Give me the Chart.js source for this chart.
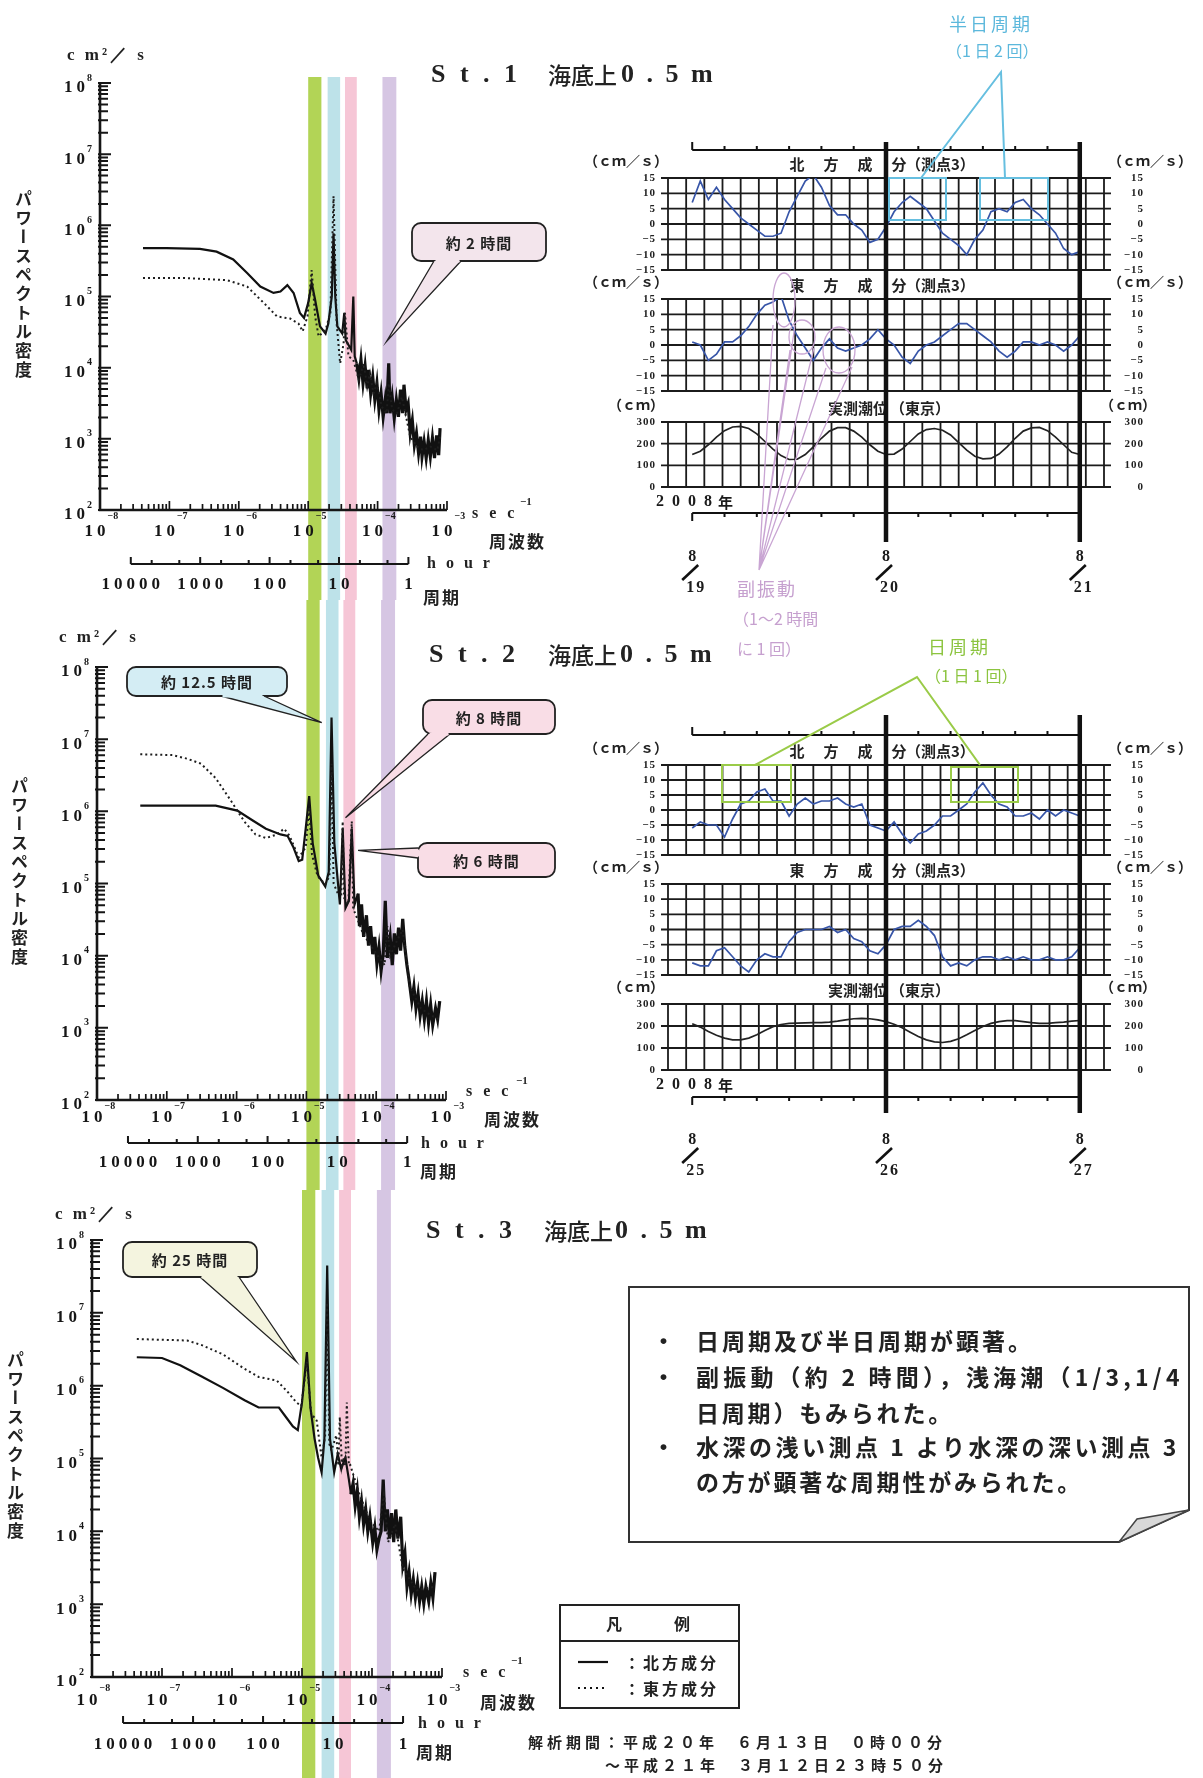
<!DOCTYPE html>
<html lang="ja">
<head>
<meta charset="utf-8">
<title>パワースペクトル密度と流速時系列</title>
<script src="https://cdn.jsdelivr.net/npm/chart.js@4.4.1/dist/chart.umd.min.js"></script>
<style>
  html, body { margin: 0; background: #fff; }
  #page { position: relative; width: 1203px; height: 1778px; overflow: hidden; background: #fff; }
  canvas { position: absolute; }
  svg { position: absolute; left: 0; top: 0; }
  .t { position: absolute; white-space: nowrap; line-height: 1; transform: translateY(-50%); color: #222; }
  .ser { font-family: "Liberation Serif", "DejaVu Serif", serif; font-weight: bold; }
  .jp { font-family: "Noto Sans CJK JP", sans-serif; font-weight: bold; }
  .vt { position: absolute; writing-mode: vertical-rl; font-family: "Noto Sans CJK JP", sans-serif; font-weight: bold;
        font-size: 17px; letter-spacing: 2px; color: #222; line-height: 1; }
  .box { font-family: "Noto Sans CJK JP", sans-serif; font-weight: bold; font-size: 23px; color: #222; }
  .note { font-family: "Noto Sans CJK JP", sans-serif; font-weight: normal; }
</style>
</head>
<body>
<div id="page">
  <canvas id="sp1" width="560" height="600" style="left:0;top:0"></canvas>
  <canvas id="sp2" width="560" height="590" style="left:0;top:600px"></canvas>
  <canvas id="sp3" width="560" height="588" style="left:0;top:1190px"></canvas>
  <canvas id="n1" width="633" height="480" style="left:570px;top:130px"></canvas>
  <canvas id="e1" width="633" height="480" style="left:570px;top:130px"></canvas>
  <canvas id="w1" width="633" height="480" style="left:570px;top:130px"></canvas>
  <canvas id="n2" width="633" height="500" style="left:570px;top:700px"></canvas>
  <canvas id="e2" width="633" height="500" style="left:570px;top:700px"></canvas>
  <canvas id="w2" width="633" height="500" style="left:570px;top:700px"></canvas>

  <svg width="1203" height="1778">
    <!-- 半日周期 -->
    <g fill="none" stroke="#66bfe0" stroke-width="2">
      <rect x="889" y="178" width="57" height="42"/>
      <rect x="980" y="178" width="68" height="42"/>
      <polyline points="921,178 1001,72 1005,178"/>
    </g>
    <!-- 日周期 -->
    <g fill="none" stroke="#9acb48" stroke-width="2">
      <rect x="722" y="765" width="69" height="37"/>
      <rect x="951" y="767" width="67" height="35"/>
      <polyline points="755,765 917,677 980,765"/>
    </g>
    <!-- 副振動 -->
    <g fill="none" stroke="#c9a5d3" stroke-width="1.3">
      <ellipse cx="784" cy="300" rx="11" ry="27"/>
      <ellipse cx="802" cy="337" rx="13" ry="17"/>
      <ellipse cx="839" cy="350" rx="16" ry="23"/>
      <path d="M759,570 L773,325 M759,570 L795,325 M759,570 L790,350 M759,570 L814,348 M759,570 L826,368 M759,570 L852,367"/>
    </g>
    <!-- comment box -->
    <polygon points="629,1287 1189,1287 1189,1510 1119,1542 629,1542" fill="#fff" stroke="#333" stroke-width="2"/>
    <polygon points="1119,1542 1137,1519 1189,1510" fill="#d8d8d8" stroke="#444" stroke-width="1.5"/>
    <!-- legend -->
    <rect x="560" y="1605" width="179" height="103" fill="#fff" stroke="#222" stroke-width="2"/>
    <line x1="560" y1="1641" x2="739" y2="1641" stroke="#222" stroke-width="2"/>
    <line x1="578" y1="1662" x2="608" y2="1662" stroke="#111" stroke-width="2.2"/>
    <line x1="578" y1="1688" x2="608" y2="1688" stroke="#111" stroke-width="2" stroke-dasharray="2,4"/>
  </svg>

  <!-- spectrum 1 labels -->
  <div class="t ser" style="left:67px;top:54px;font-size:17px;letter-spacing:3px">c m²／ s</div>
  <div class="vt" style="left:15px;top:190px">パワースペクトル密度</div>
  <div class="t ser" style="left:472px;top:513px;font-size:16px;letter-spacing:11px">sec</div>
  <div class="t ser" style="left:520px;top:501px;font-size:11px">−1</div>
  <div class="t jp" style="left:489px;top:540px;font-size:17px;letter-spacing:2px">周波数</div>
  <div class="t ser" style="left:427px;top:563px;font-size:16px;letter-spacing:10px">hour</div>
  <div class="t jp" style="left:423px;top:596px;font-size:17px;letter-spacing:2px">周期</div>
  <!-- spectrum 2 labels -->
  <div class="t ser" style="left:59px;top:636px;font-size:17px;letter-spacing:3px">c m²／ s</div>
  <div class="vt" style="left:11px;top:777px">パワースペクトル密度</div>
  <div class="t ser" style="left:466px;top:1091px;font-size:16px;letter-spacing:11px">sec</div>
  <div class="t ser" style="left:516px;top:1080px;font-size:11px">−1</div>
  <div class="t jp" style="left:484px;top:1118px;font-size:17px;letter-spacing:2px">周波数</div>
  <div class="t ser" style="left:421px;top:1143px;font-size:16px;letter-spacing:10px">hour</div>
  <div class="t jp" style="left:420px;top:1170px;font-size:17px;letter-spacing:2px">周期</div>
  <!-- spectrum 3 labels -->
  <div class="t ser" style="left:55px;top:1213px;font-size:17px;letter-spacing:3px">c m²／ s</div>
  <div class="vt" style="left:7px;top:1351px">パワースペクトル密度</div>
  <div class="t ser" style="left:463px;top:1672px;font-size:16px;letter-spacing:11px">sec</div>
  <div class="t ser" style="left:511px;top:1660px;font-size:11px">−1</div>
  <div class="t jp" style="left:480px;top:1701px;font-size:17px;letter-spacing:2px">周波数</div>
  <div class="t ser" style="left:418px;top:1723px;font-size:16px;letter-spacing:10px">hour</div>
  <div class="t jp" style="left:416px;top:1751px;font-size:17px;letter-spacing:2px">周期</div>

  <!-- station titles -->
  <div class="t ser" style="left:431px;top:74px;font-size:26px;letter-spacing:4px">S t . 1</div>
  <div class="t jp" style="left:548px;top:74px;font-size:23px;font-weight:500">海底上</div>
  <div class="t ser" style="left:621px;top:74px;font-size:26px;letter-spacing:3px">0 . 5 m</div>
  <div class="t ser" style="left:429px;top:654px;font-size:26px;letter-spacing:4px">S t . 2</div>
  <div class="t jp" style="left:548px;top:654px;font-size:23px;font-weight:500">海底上</div>
  <div class="t ser" style="left:620px;top:654px;font-size:26px;letter-spacing:3px">0 . 5 m</div>
  <div class="t ser" style="left:426px;top:1230px;font-size:26px;letter-spacing:4px">S t . 3</div>
  <div class="t jp" style="left:544px;top:1230px;font-size:23px;font-weight:500">海底上</div>
  <div class="t ser" style="left:615px;top:1230px;font-size:26px;letter-spacing:3px">0 . 5 m</div>

  <!-- annotations -->
  <div class="t note" style="left:949px;top:23px;font-size:18px;letter-spacing:3px;color:#5cb8dc">半日周期</div>
  <div class="t note" style="left:946px;top:50px;font-size:16px;color:#5cb8dc">（1 日 2 回）</div>
  <div class="t note" style="left:737px;top:588px;font-size:18px;letter-spacing:2px;color:#c6a0cf">副振動</div>
  <div class="t note" style="left:733px;top:618px;font-size:16px;color:#c6a0cf">（1〜2 時間</div>
  <div class="t note" style="left:737px;top:648px;font-size:16px;color:#c6a0cf">に 1 回）</div>
  <div class="t note" style="left:928px;top:646px;font-size:18px;letter-spacing:3px;color:#8cc43f">日周期</div>
  <div class="t note" style="left:925px;top:675px;font-size:16px;color:#8cc43f">（1 日 1 回）</div>

  <!-- comment box text -->
  <div class="t box" style="left:652px;top:1340px">・</div>
  <div class="t box" style="left:696px;top:1340px;letter-spacing:3px">日周期及び半日周期が顕著。</div>
  <div class="t box" style="left:652px;top:1376px">・</div>
  <div class="t box" style="left:696px;top:1376px;letter-spacing:4.2px">副振動（約 2 時間），浅海潮（1/3,1/4</div>
  <div class="t box" style="left:696px;top:1412px;letter-spacing:2.8px">日周期）もみられた。</div>
  <div class="t box" style="left:652px;top:1446px">・</div>
  <div class="t box" style="left:696px;top:1446px;letter-spacing:3.5px">水深の浅い測点 1 より水深の深い測点 3</div>
  <div class="t box" style="left:696px;top:1481px;letter-spacing:2.8px">の方が顕著な周期性がみられた。</div>

  <!-- legend text -->
  <div class="t jp" style="left:606px;top:1623px;font-size:16px">凡</div>
  <div class="t jp" style="left:674px;top:1623px;font-size:16px">例</div>
  <div class="t jp" style="left:624px;top:1662px;font-size:16px;letter-spacing:3px">：北方成分</div>
  <div class="t jp" style="left:624px;top:1688px;font-size:16px;letter-spacing:3px">：東方成分</div>

  <!-- analysis period -->
  <div class="t jp" style="left:528px;top:1741px;font-size:15px;letter-spacing:4px">解析期間：平成２０年　６月１３日　０時００分</div>
  <div class="t jp" style="left:605px;top:1764px;font-size:15px;letter-spacing:4px">～平成２１年　３月１２日２３時５０分</div>
</div>

<script>
// ---- spectra: [log10 frequency (1/s), log10 power (cm^2/s)] ----
const st1North = [[-7.38,5.68],[-7.04,5.68],[-6.56,5.67],[-6.32,5.63],[-6.08,5.52],[-5.88,5.33],[-5.69,5.14],[-5.50,5.05],
  [-5.40,5.07],[-5.30,5.16],[-5.21,5.05],[-5.12,4.77],[-5.06,4.70],[-5.00,4.91],[-4.95,5.19],[-4.90,4.95],[-4.83,4.58],
  [-4.75,4.48],[-4.71,4.62],[-4.66,5.00],[-4.635,5.89],[-4.61,5.00],[-4.58,4.58],[-4.51,4.48],[-4.48,4.77],[-4.46,4.39],
  [-4.38,4.25],[-4.35,5.00],[-4.33,4.16],[-4.30,4.06],[-4.27,3.85],[-4.24,4.11],[-4.21,3.78],[-4.18,4.02],[-4.15,3.71],
  [-4.13,3.97],[-4.10,3.64],[-4.07,3.87],[-4.04,3.55],[-4.01,3.78],[-3.98,3.41],[-3.95,3.64],[-3.92,3.31],[-3.89,3.55],
  [-3.87,3.36],[-3.84,4.06],[-3.82,3.36],[-3.79,3.59],[-3.76,3.29],[-3.73,3.55],[-3.70,3.31],[-3.67,3.69],[-3.64,3.36],
  [-3.62,3.76],[-3.59,3.41],[-3.56,3.50],[-3.53,3.08],[-3.50,3.26],[-3.47,2.91],[-3.44,3.08],[-3.41,2.80],[-3.38,3.03],
  [-3.36,2.75],[-3.33,2.96],[-3.30,2.73],[-3.27,2.98],[-3.24,2.75],[-3.21,3.01],[-3.18,2.73],[-3.15,3.05],[-3.12,2.77],[-3.10,3.15]];
const st1East = [[-7.38,5.26],[-6.80,5.26],[-6.17,5.23],[-5.88,5.14],[-5.64,4.91],[-5.45,4.72],[-5.26,4.69],[-5.14,4.62],
  [-5.08,4.51],[-5.01,4.72],[-4.95,5.37],[-4.90,4.72],[-4.85,4.44],[-4.75,4.53],[-4.68,4.77],[-4.635,6.41],[-4.59,4.62],
  [-4.54,4.06],[-4.49,4.34],[-4.47,4.77],[-4.42,4.16],[-4.35,4.11],[-4.27,3.83],[-4.20,4.06],[-4.15,3.73],[-4.11,3.92],
  [-4.06,3.64],[-4.01,3.78],[-3.94,3.45],[-3.87,3.36],[-3.84,3.78],[-3.79,3.41],[-3.72,3.36],[-3.65,3.59],[-3.60,3.36],
  [-3.53,3.03],[-3.43,2.89],[-3.34,2.84],[-3.24,2.89],[-3.14,2.84],[-3.10,3.03]];
const st2North = [[-7.38,6.08],[-6.30,6.08],[-5.99,6.01],[-5.78,5.88],[-5.58,5.76],[-5.37,5.68],[-5.27,5.66],[-5.19,5.51],
  [-5.11,5.31],[-5.06,5.33],[-5.01,5.76],[-4.96,6.21],[-4.91,5.56],[-4.83,5.11],[-4.73,4.96],[-4.68,5.16],[-4.64,7.30],
  [-4.60,5.56],[-4.52,4.71],[-4.48,5.76],[-4.44,4.66],[-4.39,4.76],[-4.35,5.76],[-4.31,4.71],[-4.26,4.86],[-4.24,4.41],
  [-4.21,4.71],[-4.18,4.26],[-4.14,4.56],[-4.11,4.14],[-4.08,4.41],[-4.05,4.02],[-4.02,4.26],[-3.99,3.89],[-3.96,4.12],
  [-3.93,3.79],[-3.90,4.02],[-3.87,4.76],[-3.84,3.97],[-3.80,4.26],[-3.77,3.87],[-3.74,4.31],[-3.71,4.02],[-3.68,4.39],
  [-3.65,4.07],[-3.62,4.51],[-3.59,4.12],[-3.56,3.87],[-3.53,3.67],[-3.49,3.37],[-3.46,3.57],[-3.43,3.27],[-3.40,3.47],
  [-3.37,3.17],[-3.34,3.37],[-3.31,3.12],[-3.28,3.37],[-3.25,3.07],[-3.22,3.32],[-3.19,3.04],[-3.15,3.27],[-3.12,3.12],[-3.09,3.37]];
const st2East = [[-7.38,6.79],[-6.92,6.78],[-6.71,6.73],[-6.51,6.66],[-6.30,6.46],[-6.09,6.16],[-5.89,5.86],[-5.73,5.68],
  [-5.58,5.63],[-5.42,5.68],[-5.32,5.76],[-5.24,5.66],[-5.11,5.36],[-5.01,5.50],[-4.96,6.06],[-4.92,5.40],[-4.84,5.10],
  [-4.73,4.99],[-4.67,5.10],[-4.64,6.66],[-4.61,5.00],[-4.55,4.86],[-4.50,4.85],[-4.48,5.86],[-4.46,4.80],[-4.40,4.72],
  [-4.35,5.86],[-4.33,4.65],[-4.29,4.56],[-4.19,4.31],[-4.03,4.07],[-3.88,3.87],[-3.84,4.41],[-3.80,4.00],[-3.72,4.17],
  [-3.62,4.36],[-3.52,3.57],[-3.36,3.27],[-3.21,3.17],[-3.10,3.12]];
const st3North = [[-7.36,6.39],[-7.00,6.38],[-6.74,6.28],[-6.44,6.13],[-6.13,5.97],[-5.82,5.80],[-5.62,5.70],[-5.46,5.70],
  [-5.33,5.70],[-5.23,5.57],[-5.13,5.44],[-5.06,5.39],[-5.00,5.77],[-4.93,6.46],[-4.88,5.70],[-4.82,5.27],[-4.77,5.01],
  [-4.72,4.81],[-4.68,5.27],[-4.64,7.65],[-4.60,5.27],[-4.54,4.81],[-4.49,5.06],[-4.44,4.86],[-4.38,5.01],[-4.33,4.71],
  [-4.30,4.51],[-4.27,4.66],[-4.24,4.35],[-4.21,4.56],[-4.18,4.20],[-4.15,4.41],[-4.12,4.10],[-4.09,4.30],[-4.06,4.00],
  [-4.03,4.20],[-3.99,3.85],[-3.96,4.05],[-3.93,3.75],[-3.90,3.90],[-3.87,4.00],[-3.84,4.71],[-3.81,4.00],[-3.78,4.30],
  [-3.75,3.90],[-3.72,4.25],[-3.69,3.85],[-3.66,4.30],[-3.63,3.90],[-3.59,4.20],[-3.56,3.54],[-3.53,3.70],[-3.50,3.24],
  [-3.47,3.44],[-3.44,3.14],[-3.41,3.34],[-3.38,3.09],[-3.35,3.29],[-3.32,3.04],[-3.29,3.24],[-3.26,3.01],[-3.23,3.24],
  [-3.19,3.04],[-3.16,3.29],[-3.13,3.09],[-3.10,3.44]];
const st3East = [[-7.36,6.64],[-6.64,6.62],[-6.44,6.56],[-6.13,6.43],[-5.82,6.23],[-5.62,6.12],[-5.36,6.07],[-5.21,5.92],
  [-5.08,5.77],[-5.01,5.72],[-4.93,6.33],[-4.87,5.62],[-4.79,5.52],[-4.72,5.01],[-4.67,5.30],[-4.64,7.14],[-4.61,5.20],
  [-4.58,5.11],[-4.51,5.32],[-4.48,4.90],[-4.46,5.57],[-4.43,4.90],[-4.41,5.01],[-4.38,4.90],[-4.36,5.77],[-4.33,4.90],
  [-4.31,4.91],[-4.18,4.51],[-4.03,4.15],[-3.90,4.00],[-3.83,4.51],[-3.77,3.85],[-3.67,4.10],[-3.56,3.49],[-3.36,3.19],[-3.10,3.24]];

// highlighted period bands (log10 frequency)
const bandRanges = [
  { from: -5.00, to: -4.81, color: '#b2d456' },
  { from: -4.72, to: -4.54, color: '#bde2e9' },
  { from: -4.47, to: -4.30, color: '#f6c6d6' },
  { from: -3.93, to: -3.73, color: '#d6c6e3' }
];
const freqExps = [-8, -7, -6, -5, -4, -3];
const powExps = [2, 3, 4, 5, 6, 7, 8];
const periodTicks = [10000, 1000, 100, 10, 1];
const periodMinor = [5000, 2000, 500, 200, 50, 20, 5, 2];
const noisyFrom = 1e-4 * 10 ** -0.3;   // above this frequency the spectra turn into a dense noisy band

// ---- time series (hourly from 0:00 of the first day) ----
const hours = [0,1,2,3,4,5,6,7,8,9,10,11,12,13,14,15,16,17,18,19,20,21,22,23,24,
  25,26,27,28,29,30,31,32,33,34,35,36,37,38,39,40,41,42,43,44,45,46,47,48];
const north19 = [7,14,8,12,8,5,2,0,-2,-4,-4,-3,4,9,14,16,12,6,3,3,0,-2,-6,-5,-1,4,7,9,7,5,1,-3,-5,-7,-10,-5,-2,4,5,4,7,8,5,3,0,-3,-8,-10,-9];
const east19 = [1,0,-5,-3,1,1,3,6,10,13,14,16,8,3,-1,-5,-1,2,-1,-2,-1,0,2,5,2,0,-4,-6,-2,0,1,3,5,7,7,5,3,1,-2,-4,-2,1,1,0,1,0,-2,0,3];
const tide19 = [150,165,195,230,260,277,280,270,245,210,175,145,127,128,150,185,225,258,274,274,258,230,195,165,150,152,175,210,245,265,270,262,240,205,170,142,130,132,152,185,225,258,273,275,260,230,195,160,150];
const north25 = [-6,-4,-5,-5,-9,-3,2,3,6,7,3,3,-2,2,4,2,3,3,4,2,1,2,-5,-6,-7,-4,-8,-11,-8,-7,-5,-2,-2,0,2,6,9,5,2,1,-2,-2,-1,-3,0,-2,0,-1,-2];
const east25 = [-11,-12,-12,-7,-6,-9,-12,-14,-10,-8,-9,-9,-4,-1,0,0,0,1,-1,0,-3,-4,-7,-8,-5,0,1,1,3,1,-2,-9,-12,-11,-12,-10,-9,-9,-10,-9,-10,-9,-10,-10,-9,-10,-10,-9,-6];
const tide25 = [210,195,175,158,145,137,137,145,160,180,197,207,212,213,214,215,215,218,222,228,233,235,233,228,220,208,192,172,152,137,128,125,130,142,160,180,198,212,220,224,224,220,215,212,212,215,218,222,225];
const velTicks = [15, 10, 5, 0, -5, -10, -15];
const tideTicks = [300, 200, 100, 0];
const dayHours = [0, 24, 48];
const days1 = ['19', '20', '21'];
const days2 = ['25', '26', '27'];
const gridHours = 2.25;

const INK = '#161616';
const SERIF = '"Liberation Serif", "DejaVu Serif", serif';
const JP = '"Noto Sans CJK JP", sans-serif';

function roundRectPath(ctx, x, y, w, h, r) {
  ctx.beginPath();
  ctx.moveTo(x + r, y);
  ctx.arcTo(x + w, y, x + w, y + h, r);
  ctx.arcTo(x + w, y + h, x, y + h, r);
  ctx.arcTo(x, y + h, x, y, r);
  ctx.arcTo(x, y, x + w, y, r);
  ctx.closePath();
}

// "10" with a small exponent
function pow10(ctx, x, y, ey, e, align) {
  ctx.font = 'bold 17px ' + SERIF;
  ctx.letterSpacing = '4px';
  const w = ctx.measureText('10').width - 4;
  const x0 = align === 'right' ? x - w : x - w / 2;
  ctx.textAlign = 'left';
  ctx.textBaseline = 'middle';
  ctx.fillText('10', x0, y);
  ctx.font = 'bold 10px ' + SERIF;
  ctx.letterSpacing = '0px';
  ctx.fillText(e < 0 ? '−' + Math.abs(e) : String(e), x0 + w + 2, ey);
}

function specDeco(o) {
  return {
    id: 'specDeco',
    beforeDatasetsDraw(chart) {
      const { ctx, scales: { x } } = chart;
      ctx.save();
      bandRanges.forEach(b => {
        const x1 = x.getPixelForValue(10 ** b.from), x2 = x.getPixelForValue(10 ** b.to);
        ctx.fillStyle = b.color;
        ctx.fillRect(x1, o.bandTop, x2 - x1, chart.height - o.bandTop);
      });
      ctx.restore();
    },
    afterDatasetsDraw(chart) {
      const { ctx, chartArea: a, scales: { x, y } } = chart;
      ctx.save();
      ctx.strokeStyle = INK;
      ctx.fillStyle = INK;

      // minor / major ticks
      ctx.lineWidth = 2;
      ctx.beginPath();
      for (let e = 2; e <= 8; e++) {
        for (let k = 1; k <= 9; k++) {
          if (e === 8 && k > 1) break;
          const py = y.getPixelForValue(k * 10 ** e);
          ctx.moveTo(a.left - 2, py);
          ctx.lineTo(a.left + (k === 1 ? 11 : 8), py);
        }
      }
      ctx.stroke();
      ctx.lineWidth = 1.7;
      ctx.beginPath();
      for (let e = -8; e <= -3; e++) {
        for (let k = 1; k <= 9; k++) {
          if (e === -3 && k > 1) break;
          const px = x.getPixelForValue(k * 10 ** e);
          ctx.moveTo(px, a.bottom);
          ctx.lineTo(px, a.bottom - (k === 1 ? 9 : 6));
        }
      }
      ctx.stroke();

      ctx.lineWidth = 2.6;
      ctx.beginPath();
      ctx.moveTo(a.left, a.top);
      ctx.lineTo(a.left, a.bottom);
      ctx.lineTo(a.right, a.bottom);
      ctx.stroke();

      powExps.forEach(e => {
        const py = y.getPixelForValue(10 ** e);
        pow10(ctx, a.left - 15, py + 5, py - 5, e, 'right');
      });
      freqExps.forEach(e => {
        pow10(ctx, x.getPixelForValue(10 ** e) - 5, a.bottom + o.xLab, a.bottom + o.xExp, e, 'center');
      });

      // period axis (hours) on the same frequency scale
      const hx = h => x.getPixelForValue(1 / (3600 * h));
      const py = a.bottom + o.perY;
      ctx.lineWidth = 2;
      ctx.beginPath();
      ctx.moveTo(hx(periodTicks[0]), py);
      ctx.lineTo(hx(periodTicks[periodTicks.length - 1]), py);
      periodTicks.forEach(h => { ctx.moveTo(hx(h), py); ctx.lineTo(hx(h), py - 7); });
      periodMinor.forEach(h => { ctx.moveTo(hx(h), py); ctx.lineTo(hx(h), py - 4); });
      ctx.stroke();
      ctx.font = 'bold 17px ' + SERIF;
      ctx.letterSpacing = '4px';
      ctx.textAlign = 'center';
      ctx.textBaseline = 'middle';
      periodTicks.forEach(h => ctx.fillText(String(h), hx(h) + 2, a.bottom + o.perLab));
      ctx.letterSpacing = '0px';

      // callouts
      o.callouts.forEach(c => {
        const bx = a.left + c.box[0], by = a.top + c.box[1], bw = c.box[2], bh = c.box[3];
        const tx = x.getPixelForValue(10 ** c.tip[0]), ty = y.getPixelForValue(10 ** c.tip[1]);
        const b1 = [bx + c.base[0][0], by + c.base[0][1]];
        const b2 = [bx + c.base[1][0], by + c.base[1][1]];
        ctx.fillStyle = c.fill;
        ctx.strokeStyle = '#222';
        ctx.lineWidth = 1.8;
        roundRectPath(ctx, bx, by, bw, bh, 9);
        ctx.fill();
        ctx.stroke();
        ctx.beginPath();
        ctx.moveTo(b1[0], b1[1]); ctx.lineTo(tx, ty); ctx.lineTo(b2[0], b2[1]); ctx.closePath();
        ctx.fill();
        ctx.lineWidth = 1.3;
        ctx.beginPath();
        ctx.moveTo(b1[0], b1[1]); ctx.lineTo(tx, ty); ctx.lineTo(b2[0], b2[1]);
        ctx.stroke();
        const len = Math.hypot(b2[0] - b1[0], b2[1] - b1[1]);
        const ux = (b2[0] - b1[0]) / len, uy = (b2[1] - b1[1]) / len;
        ctx.strokeStyle = c.fill;
        ctx.lineWidth = 3;
        ctx.beginPath();
        ctx.moveTo(b1[0] + ux * 1.5, b1[1] + uy * 1.5);
        ctx.lineTo(b2[0] - ux * 1.5, b2[1] - uy * 1.5);
        ctx.stroke();
        ctx.fillStyle = '#222';
        ctx.font = 'bold 15px ' + JP;
        ctx.letterSpacing = '1px';
        ctx.textAlign = 'center';
        ctx.textBaseline = 'middle';
        ctx.fillText(c.text, bx + bw / 2, by + bh / 2 + 1);
        ctx.letterSpacing = '0px';
      });
      ctx.restore();
    }
  };
}

const toXY = pts => pts.map(([lf, lp]) => ({ x: 10 ** lf, y: 10 ** lp }));

function spectrum(id, north, east, pad, deco) {
  return new Chart(document.getElementById(id), {
    type: 'scatter',
    data: {
      datasets: [
        { data: toXY(east), showLine: true, borderColor: '#1e1e1e', borderWidth: 2, borderDash: [2, 3], pointRadius: 0 },
        { data: toXY(north), showLine: true, borderColor: '#111', borderWidth: 2.2, pointRadius: 0,
          segment: { borderWidth: s => (s.p0.parsed.x > noisyFrom ? 3.2 : 2.2) } }
      ]
    },
    options: {
      responsive: false,
      animation: false,
      events: [],
      layout: { padding: pad },
      plugins: { legend: { display: false }, tooltip: { enabled: false } },
      scales: {
        x: { type: 'logarithmic', min: 1e-8, max: 1e-3, display: false },
        y: { type: 'logarithmic', min: 1e2, max: 1e8, display: false }
      }
    },
    plugins: [specDeco(deco)]
  });
}

spectrum('sp1', st1North, st1East, { left: 100, right: 113, top: 83, bottom: 90 }, {
  bandTop: 77, xLab: 22, xExp: 6, perY: 54, perLab: 75,
  callouts: [
    { text: '約 2 時間', fill: '#f3e5ec', box: [312, 140, 134, 38], base: [[22, 38], [49, 38]], tip: [-3.87, 4.37] }
  ]
});
spectrum('sp2', st2North, st2East, { left: 97, right: 114, top: 67, bottom: 90 }, {
  bandTop: 0, xLab: 18, xExp: 6, perY: 43, perLab: 63,
  callouts: [
    { text: '約 12.5 時間', fill: '#d4edf4', box: [30, 0, 160, 29], base: [[94, 29], [137, 29]], tip: [-4.78, 7.23] },
    { text: '約 8 時間', fill: '#f9dde6', box: [326, 33, 132, 34], base: [[5, 34], [27, 34]], tip: [-4.44, 5.91] },
    { text: '約 6 時間', fill: '#f9dde6', box: [321, 176, 137, 34], base: [[0, 5], [0, 15]], tip: [-4.26, 5.46] }
  ]
});
spectrum('sp3', st3North, st3East, { left: 92, right: 118, top: 50, bottom: 101 }, {
  bandTop: 0, xLab: 24, xExp: 11, perY: 46, perLab: 68,
  callouts: [
    { text: '約 25 時間', fill: '#f4f4df', box: [31, 2, 134, 35], base: [[77, 35], [116, 35]], tip: [-5.08, 6.33] }
  ]
});

// ---- time-series panels ----
function tsDeco(o) {
  return {
    id: 'tsDeco',
    beforeDatasetsDraw(chart) {
      const { ctx, chartArea: a, scales: { x, y } } = chart;
      ctx.save();
      ctx.strokeStyle = '#1b1b1b';
      ctx.lineWidth = 1.8;
      ctx.beginPath();
      for (let h = x.min; h <= x.max + 0.01; h += gridHours) {
        const px = x.getPixelForValue(h);
        ctx.moveTo(px, a.top);
        ctx.lineTo(px, a.bottom);
      }
      o.ticks.forEach(v => {
        const py = y.getPixelForValue(v);
        ctx.moveTo(a.left - 7, py);
        ctx.lineTo(a.right + 7, py);
      });
      ctx.stroke();

      ctx.fillStyle = '#222';
      ctx.font = 'bold 11px ' + SERIF;
      ctx.letterSpacing = '1px';
      ctx.textBaseline = 'middle';
      ctx.textAlign = 'right';
      o.ticks.forEach(v => {
        const py = y.getPixelForValue(v);
        const s = String(v).replace('-', '−');
        ctx.fillText(s, a.left - 12, py);
        ctx.fillText(s, a.right + 40, py);
      });
      ctx.letterSpacing = '0px';

      ctx.font = 'bold 14px ' + JP;
      ctx.textAlign = 'left';
      ctx.fillText(o.unit, a.left - o.unitL, a.top - 17);
      ctx.fillText(o.unit, a.right + o.unitR, a.top - 17);

      const dx = x.getPixelForValue(24);
      ctx.font = 'bold 15px ' + JP;
      o.title.forEach(([s, off, al]) => {
        ctx.textAlign = al;
        ctx.fillText(s, dx + off, a.top - 14);
      });
      ctx.restore();
    },
    afterDraw(chart) {
      const { ctx, chartArea: a, scales: { x } } = chart;
      ctx.save();
      ctx.strokeStyle = '#111';
      ctx.fillStyle = '#1b1b1b';
      const xa = x.getPixelForValue(dayHours[0]), xb = x.getPixelForValue(dayHours[dayHours.length - 1]);
      if (o.topAxis !== undefined) {
        ctx.lineWidth = 2;
        ctx.beginPath();
        ctx.moveTo(xa, o.topAxis);
        ctx.lineTo(xb, o.topAxis);
        for (let h = 0; h <= 48; h += 4) {
          const px = x.getPixelForValue(h);
          ctx.moveTo(px, o.topAxis);
          ctx.lineTo(px, o.topAxis - (h === 0 ? 8 : 4));
        }
        ctx.stroke();
      }
      if (o.botAxis !== undefined) {
        ctx.lineWidth = 2;
        ctx.beginPath();
        ctx.moveTo(xa, o.botAxis);
        ctx.lineTo(xb, o.botAxis);
        for (let h = 0; h <= 48; h += 4) {
          const px = x.getPixelForValue(h);
          ctx.moveTo(px, o.botAxis);
          ctx.lineTo(px, o.botAxis + (h === 0 ? 8 : 4));
        }
        ctx.stroke();

        ctx.textBaseline = 'middle';
        ctx.textAlign = 'left';
        ctx.font = 'bold 16px ' + SERIF;
        ctx.letterSpacing = '8px';
        ctx.fillText('2008', a.left - 12, o.yearY);
        const w = ctx.measureText('2008').width;
        ctx.letterSpacing = '0px';
        ctx.font = 'bold 15px ' + JP;
        ctx.fillText('年', a.left - 14 + w, o.yearY);

        o.days.forEach((d, i) => {
          const px = x.getPixelForValue(dayHours[i]);
          ctx.font = 'bold 16px ' + SERIF;
          ctx.textAlign = 'center';
          ctx.fillText('8', px, o.dateY);
          ctx.lineWidth = 2.6;
          ctx.beginPath();
          ctx.moveTo(px - 10, o.dateY + 23);
          ctx.lineTo(px + 6, o.dateY + 8);
          ctx.stroke();
          ctx.textAlign = 'left';
          ctx.letterSpacing = '2px';
          ctx.fillText(d, px - 6, o.dateY + 31);
          ctx.letterSpacing = '0px';
        });

        ctx.lineWidth = 4.5;
        ctx.beginPath();
        [dayHours[1], dayHours[2]].forEach(h => {
          const px = x.getPixelForValue(h);
          ctx.moveTo(px, o.dayTop);
          ctx.lineTo(px, o.dayBottom);
        });
        ctx.stroke();
      }
      ctx.restore();
    }
  };
}

function series(id, vals, color, range, pad, deco) {
  return new Chart(document.getElementById(id), {
    type: 'scatter',
    data: {
      datasets: [{
        data: hours.map((h, i) => ({ x: h, y: vals[i] })),
        showLine: true, borderColor: color, borderWidth: 1.7, pointRadius: 0
      }]
    },
    options: {
      responsive: false,
      animation: false,
      events: [],
      layout: { padding: pad },
      plugins: { legend: { display: false }, tooltip: { enabled: false } },
      scales: {
        x: { type: 'linear', min: -3, max: 51, display: false },
        y: { type: 'linear', min: range[0], max: range[1], display: false }
      }
    },
    plugins: [tsDeco(deco)]
  });
}

const BLUE = '#3755a8';
const velUnit = '（ｃｍ／ｓ）';
const tideUnit = '（ｃｍ）';
const titleN = [['北', -89, 'center'], ['方', -55, 'center'], ['成', -21, 'center'], ['分', 13, 'center'], ['（測点3）', 20, 'left']];
const titleE = [['東', -89, 'center'], ['方', -55, 'center'], ['成', -21, 'center'], ['分', 13, 'center'], ['（測点3）', 20, 'left']];
const titleT = [['実測潮位', 2, 'right'], ['（東京）', 4, 'left']];

// panel 1 (8/19 - 8/21), canvas top = 130
series('n1', north19, BLUE, [-15, 15], { left: 98, right: 99, top: 48, bottom: 340 },
  { ticks: velTicks, unit: velUnit, unitL: 84, unitR: 4, title: titleN, topAxis: 20 });
series('e1', east19, BLUE, [-15, 15], { left: 98, right: 99, top: 169, bottom: 219 },
  { ticks: velTicks, unit: velUnit, unitL: 84, unitR: 4, title: titleE });
series('w1', tide19, '#222', [0, 300], { left: 98, right: 99, top: 292, bottom: 123 },
  { ticks: tideTicks, unit: tideUnit, unitL: 60, unitR: -4, title: titleT,
    botAxis: 383, yearY: 372, dateY: 427, days: days1, dayTop: 12, dayBottom: 412 });

// panel 2 (8/25 - 8/27), canvas top = 700
series('n2', north25, BLUE, [-15, 15], { left: 98, right: 99, top: 65, bottom: 345 },
  { ticks: velTicks, unit: velUnit, unitL: 84, unitR: 4, title: titleN, topAxis: 35 });
series('e2', east25, BLUE, [-15, 15], { left: 98, right: 99, top: 184, bottom: 225 },
  { ticks: velTicks, unit: velUnit, unitL: 84, unitR: 4, title: titleE });
series('w2', tide25, '#222', [0, 300], { left: 98, right: 99, top: 304, bottom: 130 },
  { ticks: tideTicks, unit: tideUnit, unitL: 60, unitR: -4, title: titleT,
    botAxis: 397, yearY: 385, dateY: 440, days: days2, dayTop: 15, dayBottom: 413 });
</script>
</body>
</html>
